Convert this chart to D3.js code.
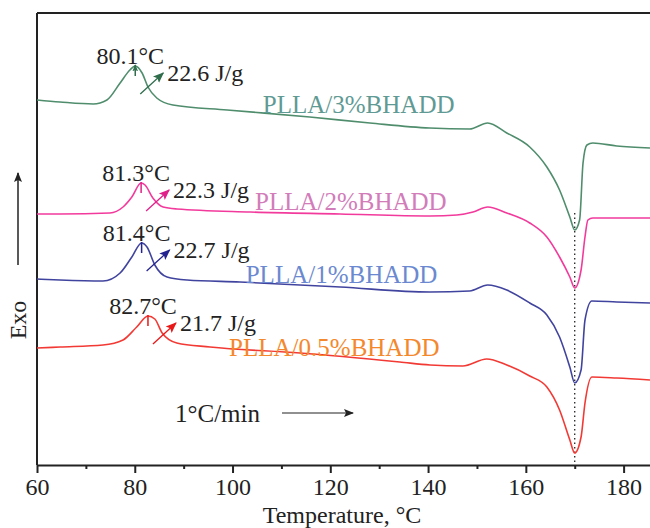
<!DOCTYPE html>
<html>
<head>
<meta charset="utf-8">
<script src="https://cdn.jsdelivr.net/npm/d3@7"></script>
<style>
  body { margin: 0; background: #fff; }
  text { font-family: "Liberation Serif", "Times New Roman", serif; }
</style>
</head>
<body>
<script>
// dimensions of the page and the plot frame
const SCREEN = {
    width: 650,
    height: 528,
    left: 37,
    right: 650,
    top: 13,
    bottom: 465
};

// temperature (°C) and heat flow (a.u., exo up, curves offset)
const tempPLLA3 = [60, 64.7, 71.5, 74.3, 77.0, 79.0, 80.1, 81.5, 82.7, 84.5, 87.8, 98.9, 115.8, 128.1, 140.3, 148.5, 152.2, 156.1, 160.8, 164.3, 166.9, 169.0, 170.0, 171.0, 171.7, 172.5, 173.7, 178.6, 185.4];
const flowPLLA3 = [36.5, 36.3, 36.1, 36.5, 38.2, 39.5, 39.9, 39.2, 37.8, 36.7, 36.0, 35.5, 34.8, 34.2, 33.7, 33.6, 34.2, 33.2, 31.8, 29.8, 27.5, 24.8, 23.5, 24.5, 30.2, 32.0, 32.2, 31.9, 31.7];

const tempPLLA2 = [60, 64.7, 74.9, 77.6, 79.4, 81.3, 82.1, 83.7, 85.8, 88.6, 103.6, 122.0, 140.4, 145.9, 149.2, 152.2, 156.1, 160.8, 164.3, 166.9, 169.0, 170.0, 171.3, 172.1, 172.7, 173.7, 185.4];
const flowPLLA2 = [25.1, 25.1, 25.2, 25.8, 26.8, 28.2, 28.0, 26.7, 25.8, 25.6, 25.3, 25.1, 24.9, 25.0, 25.3, 25.8, 25.2, 24.2, 22.8, 20.8, 18.8, 17.7, 19.5, 22.8, 24.5, 24.7, 24.7];

const tempPLLA1 = [60, 64.7, 73.5, 77.0, 79.4, 81.4, 82.5, 84.1, 86.6, 90.7, 101.5, 122.0, 140.4, 148.5, 152.2, 156.1, 160.8, 164.3, 166.9, 169.0, 170.0, 171.3, 172.1, 173.5, 178.6, 185.4];
const flowPLLA1 = [18.6, 18.5, 18.4, 19.2, 20.8, 22.2, 21.8, 20.0, 18.8, 18.5, 18.3, 17.8, 17.3, 17.4, 18.0, 17.5, 16.2, 15.0, 12.8, 9.8, 8.2, 9.5, 14.5, 16.4, 16.3, 16.2];

const tempPLLA05 = [60, 64.7, 73.5, 77.6, 80.4, 82.7, 84.1, 85.6, 88.6, 95.4, 113.8, 134.2, 140.4, 147.1, 152.0, 156.1, 160.8, 164.3, 166.9, 169.0, 170.0, 171.3, 172.1, 173.5, 178.6, 185.4];
const flowPLLA05 = [11.7, 11.8, 12.0, 12.5, 13.8, 14.9, 14.6, 13.2, 12.2, 11.8, 11.2, 10.3, 10.0, 9.9, 10.6, 10.0, 8.9, 7.8, 5.5, 2.5, 1.2, 2.8, 6.2, 8.8, 8.7, 8.5];

const sampleNames = ['PLLA/3%BHADD', 'PLLA/2%BHADD', 'PLLA/1%BHADD', 'PLLA/0.5%BHADD'];
const peakTemps = [80.1, 81.3, 81.4, 82.7];
const peakLabels = ['80.1°C', '81.3°C', '81.4°C', '82.7°C'];
const enthalpyLabels = ['22.6 J/g', '22.3 J/g', '22.7 J/g', '21.7 J/g'];
const meltTemp = 170;

const xTicksMajor = [60, 80, 100, 120, 140, 160, 180];
const xTicksMinor = [70, 90, 110, 130, 150, 170];

// colours + where each sample name sits (data space)
const lineColors = ['#4f8d6d', '#f23a9c', '#41449e', '#f23a35'];
const arrowColors = ['#2f6d4d', '#e0208a', '#23238f', '#e81818'];
const nameColors = ['#5f9a94', '#d27cba', '#6b89d0', '#f4882c'];
const namePos = [[106.2, 35.2], [104.6, 25.5], [102.7, 18.2], [99.3, 10.9]];

const curves = [
    d3.zip(tempPLLA3, flowPLLA3),
    d3.zip(tempPLLA2, flowPLLA2),
    d3.zip(tempPLLA1, flowPLLA1),
    d3.zip(tempPLLA05, flowPLLA05)
];

const svg = d3.select('body').append('svg')
    .attr('width', SCREEN.width)
    .attr('height', SCREEN.height);

const xScale = d3.scaleLinear([60, 185.4], [SCREEN.left, SCREEN.right]);
const yScale = d3.scaleLinear([0, 45.2], [SCREEN.bottom, SCREEN.top]);

const defs = svg.append('defs');
const addMarker = (id, color, size) => {
    defs.append('marker')
        .attr('id', id)
        .attr('viewBox', '0 0 10 10')
        .attr('refX', 9).attr('refY', 5)
        .attr('markerWidth', size).attr('markerHeight', size)
        .attr('markerUnits', 'userSpaceOnUse')
        .attr('orient', 'auto')
        .append('path')
        .attr('d', 'M0,1 L10,5 L0,9 L2,5 Z')
        .attr('fill', color);
};
arrowColors.forEach((c, i) => addMarker('arr' + i, c, 11));
addMarker('arrK', '#222', 10);
addMarker('tip0', arrowColors[0], 7);

// frame
const frame = svg.append('g').attr('stroke', '#222').attr('stroke-width', 2).attr('fill', 'none');
frame.append('line').attr('x1', SCREEN.left).attr('x2', SCREEN.right).attr('y1', SCREEN.top).attr('y2', SCREEN.top);
frame.append('line').attr('x1', SCREEN.left).attr('x2', SCREEN.left).attr('y1', SCREEN.top).attr('y2', SCREEN.bottom);

// x axis, major + minor ticks
svg.append('g')
    .attr('transform', `translate(0,${SCREEN.bottom})`)
    .call(d3.axisBottom(xScale).tickValues(xTicksMajor).tickSize(8).tickPadding(5).tickSizeOuter(0))
    .call(g => g.select('.domain').attr('stroke', '#222').attr('stroke-width', 2))
    .call(g => g.selectAll('.tick line').attr('stroke', '#222').attr('stroke-width', 2))
    .call(g => g.selectAll('.tick text')
        .attr('fill', '#222')
        .style('font-family', '"Liberation Serif", serif')
        .style('font-size', '24px'));

svg.append('g')
    .attr('transform', `translate(0,${SCREEN.bottom})`)
    .call(d3.axisBottom(xScale).tickValues(xTicksMinor).tickSize(4).tickFormat(''))
    .call(g => g.select('.domain').remove())
    .call(g => g.selectAll('.tick line').attr('stroke', '#222').attr('stroke-width', 2));

svg.append('text')
    .attr('x', 342).attr('y', 523)
    .attr('text-anchor', 'middle')
    .attr('fill', '#222')
    .style('font-size', '24px')
    .text('Temperature, °C');

// Exo label with up arrow
svg.append('text')
    .attr('transform', 'translate(26,320) rotate(-90)')
    .attr('text-anchor', 'middle')
    .attr('fill', '#222')
    .style('font-size', '24px')
    .text('Exo');
svg.append('line')
    .attr('x1', 18).attr('x2', 18).attr('y1', 265).attr('y2', 173)
    .attr('stroke', '#222').attr('stroke-width', 1.5)
    .attr('marker-end', 'url(#arrK)');

// dotted line at the melting peak
svg.append('line')
    .attr('x1', xScale(meltTemp)).attr('x2', xScale(meltTemp))
    .attr('y1', yScale(25.2)).attr('y2', SCREEN.bottom)
    .attr('stroke', '#222').attr('stroke-width', 1.3)
    .attr('stroke-dasharray', '1.5,3');

const line = d3.line()
    .x(d => xScale(d[0]))
    .y(d => yScale(d[1]))
    .curve(d3.curveMonotoneX);

svg.append('g')
    .selectAll('path')
    .data(curves)
    .join('path')
    .attr('d', line)
    .attr('fill', 'none')
    .attr('stroke', (d, i) => lineColors[i])
    .attr('stroke-width', 1.6);

// annotations per curve
curves.forEach((curve, i) => {
    const peak = d3.greatest(curve.filter(d => d[0] < 100), d => d[1]);
    const px = xScale(peakTemps[i]);
    const py = yScale(peak[1]);
    const g = svg.append('g');

    // small vertical marker at the crystallisation peak
    g.append('line')
        .attr('x1', px).attr('x2', px)
        .attr('y1', py + 10).attr('y2', py - 1)
        .attr('stroke', arrowColors[i]).attr('stroke-width', 1.5)
        .attr('marker-end', i === 0 ? 'url(#tip0)' : null);

    g.append('text')
        .attr('x', px - 5).attr('y', py - 2)
        .attr('text-anchor', 'middle')
        .attr('fill', '#222')
        .style('font-size', '24px')
        .text(peakLabels[i]);

    // diagonal arrow pointing to the enthalpy value
    const x0 = px + 5, y0 = py + 28, x1 = px + 28, y1 = py + 7;
    g.append('line')
        .attr('x1', x0).attr('y1', y0).attr('x2', x1).attr('y2', y1)
        .attr('stroke', arrowColors[i]).attr('stroke-width', 1.3)
        .attr('marker-end', `url(#arr${i})`);

    g.append('text')
        .attr('x', x1 + 4).attr('y', y1 + 8)
        .attr('fill', '#222')
        .style('font-size', '24px')
        .text(enthalpyLabels[i]);

    g.append('text')
        .attr('x', xScale(namePos[i][0])).attr('y', yScale(namePos[i][1]))
        .attr('fill', nameColors[i])
        .style('font-size', '25px')
        .text(sampleNames[i]);
});

// heating rate note
svg.append('text')
    .attr('x', 175).attr('y', 422)
    .attr('fill', '#222')
    .style('font-size', '25px')
    .text('1°C/min');
svg.append('line')
    .attr('x1', 282).attr('x2', 353).attr('y1', 413).attr('y2', 413)
    .attr('stroke', '#222').attr('stroke-width', 1.2)
    .attr('marker-end', 'url(#arrK)');
</script>
</body>
</html>
